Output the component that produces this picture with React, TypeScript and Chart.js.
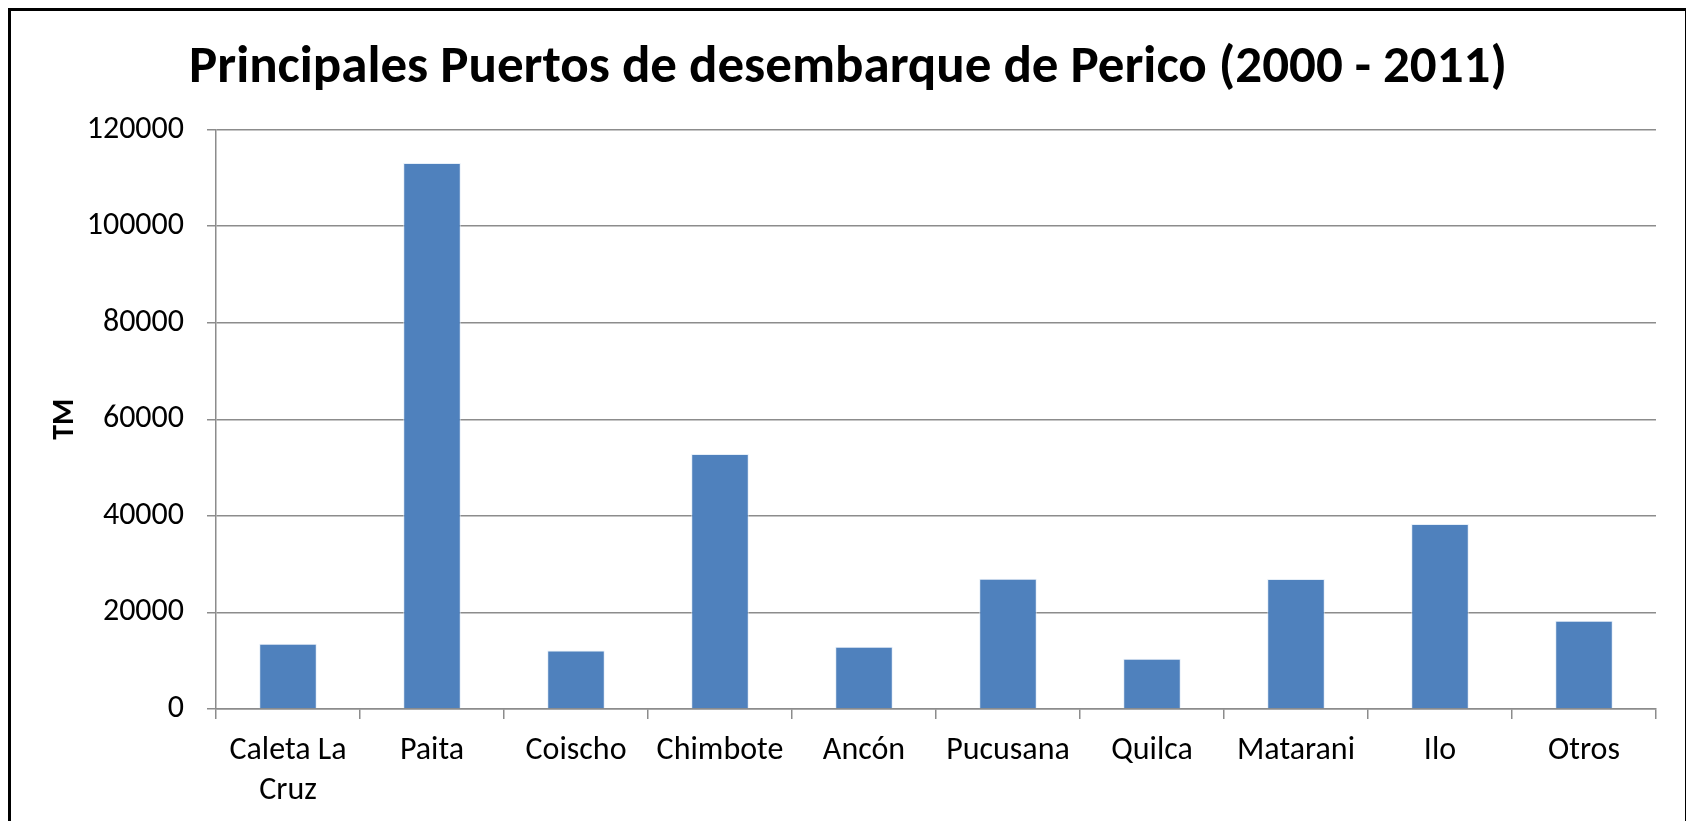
import React, { useEffect, useRef } from "react";
import { Chart, registerables } from "chart.js";

Chart.register(...registerables);

const categories: (string | string[])[] = [
  ["Caleta La", "Cruz"],
  "Paita",
  "Coischo",
  "Chimbote",
  "Ancón",
  "Pucusana",
  "Quilca",
  "Matarani",
  "Ilo",
  "Otros",
];
const landings: number[] = [13500, 113100, 12100, 52800, 12900, 27000, 10400, 26900, 38300, 18300];
const titleText = "Principales Puertos de desembarque de Perico (2000 - 2011)";
const yAxisTitle = "TM";
const yMin = 0;
const yMax = 120000;
const yStep = 20000;

const FONT = "Carlito, Calibri, Lato, sans-serif";
const GRID = "#8c8c8c";

export default function App() {
  const ref = useRef<HTMLCanvasElement | null>(null);

  useEffect(() => {
    if (!ref.current) return;
    const chart = new Chart(ref.current, {
      type: "bar",
      data: {
        labels: categories,
        datasets: [
          {
            label: yAxisTitle,
            data: landings,
            backgroundColor: "#4F81BD",
            borderColor: "rgba(220,232,245,0.7)",
            borderWidth: 1,
            categoryPercentage: 1,
            barPercentage: 0.4,
            yAxisID: "y",
          },
        ],
      },
      options: {
        responsive: false,
        animation: false,
        layout: { padding: 0 },
        plugins: {
          legend: { display: false },
          tooltip: { enabled: false },
          title: {
            display: true,
            text: titleText,
            color: "#000",
            font: { family: FONT, size: 53, weight: "bold" },
            padding: { top: 26, bottom: 29 },
          },
        },
        scales: {
          x: {
            grid: {
              offset: true,
              drawOnChartArea: false,
              drawTicks: true,
              tickLength: 10,
              color: GRID,
              lineWidth: 1.5,
            },
            border: { display: true, color: GRID, width: 1.5 },
            ticks: {
              color: "#000",
              font: { family: FONT, size: 32, lineHeight: 1.25 },
              padding: 12,
              maxRotation: 0,
              autoSkip: false,
            },
            afterFit: (scale: any) => {
              scale.height = 112;
            },
          },
          y: {
            min: yMin,
            max: yMax,
            grid: {
              drawOnChartArea: true,
              drawTicks: true,
              tickLength: 9,
              color: GRID,
              lineWidth: 1.5,
            },
            border: { display: true, color: GRID, width: 1.5 },
            ticks: {
              stepSize: yStep,
              color: "#000",
              font: { family: FONT, size: 32 },
              padding: 23,
              callback: (v: any) => String(v),
            },
            title: {
              display: true,
              text: yAxisTitle,
              color: "#000",
              font: { family: FONT, size: 30, weight: "bold" },
              padding: { top: 36, bottom: 0 },
            },
            afterFit: (scale: any) => {
              scale.width = 205;
            },
          },
          yRight: {
            position: "right",
            display: true,
            grid: { display: false, drawTicks: false },
            border: { display: false },
            ticks: { display: false },
            afterFit: (scale: any) => {
              scale.width = 29;
            },
          },
        },
      },
    });
    return () => chart.destroy();
  }, []);

  return (
    <div
      style={{
        width: 1674,
        height: 810,
        borderTop: "3px solid #000",
        borderLeft: "3px solid #000",
        borderRight: "3px solid #000",
        background: "#fff",
      }}
    >
      <canvas ref={ref} width={1674} height={810} style={{ display: "block", width: 1674, height: 810 }} />
    </div>
  );
}
